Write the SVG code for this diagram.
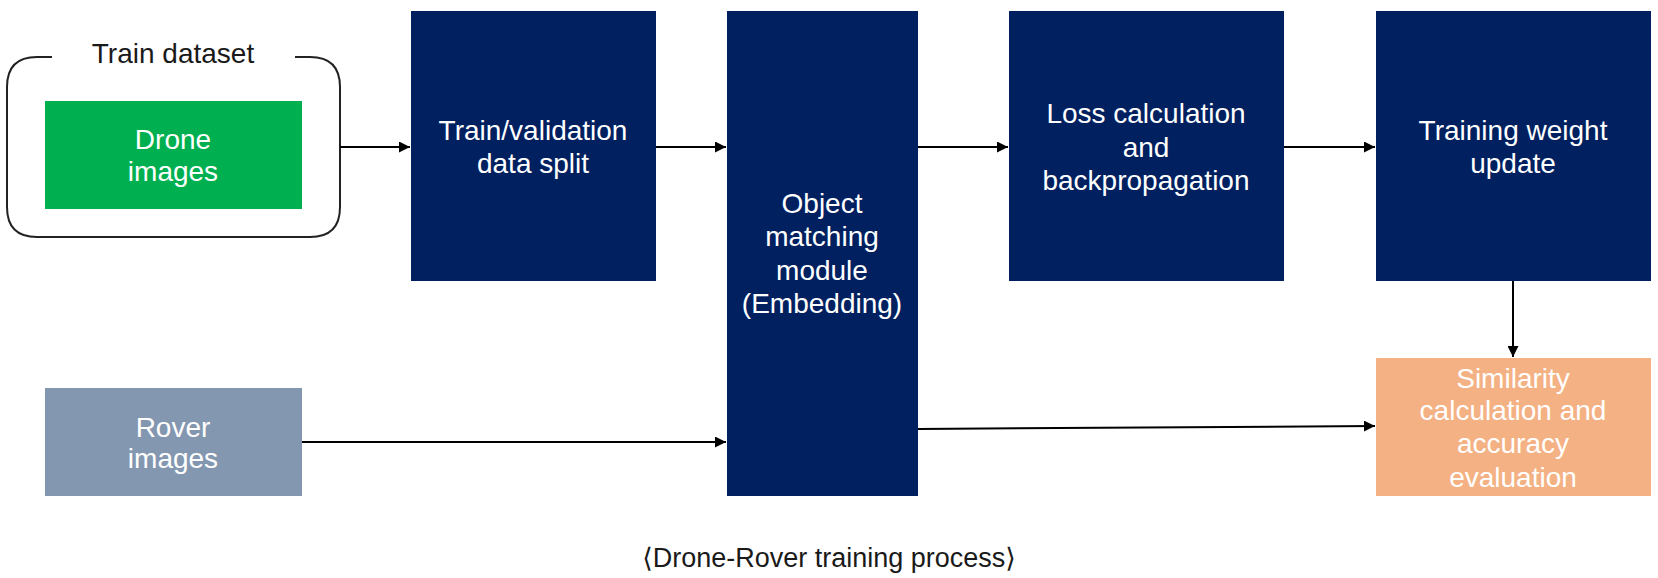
<svg xmlns="http://www.w3.org/2000/svg" width="1658" height="578" viewBox="0 0 1658 578">
<style>
text{font-family:"Liberation Sans","DejaVu Sans",sans-serif;font-size:28px;text-anchor:middle}
.w{fill:#ffffff}
.d{fill:#1a1a1a}
.navy{fill:#002060}
.conn{stroke:#000;stroke-width:2;fill:none;marker-end:url(#ah)}
</style>
<defs>
<marker id="ah" viewBox="0 0 10 10" refX="10" refY="5" markerWidth="11" markerHeight="11" markerUnits="userSpaceOnUse" orient="auto">
<path d="M0,0 L10,5 L0,10 z" fill="#000"/>
</marker>
</defs>
<rect width="1658" height="578" fill="#fff"/>

<g id="train-dataset">
<path d="M52,57 L37,57 Q7,57 7,87 L7,207 Q7,237 37,237 L310,237 Q340,237 340,207 L340,87 Q340,57 310,57 L295,57" fill="none" stroke="#222" stroke-width="2"/>
<text class="d" x="173" y="63">Train dataset</text>
</g>

<g id="drone-images">
<rect x="45" y="101" width="257" height="108" fill="#00b050"/>
<text class="w" x="173" y="149">Drone</text>
<text class="w" x="173" y="181">images</text>
</g>

<g id="split">
<rect class="navy" x="411" y="11" width="245" height="270"/>
<text class="w" x="533" y="140">Train/validation</text>
<text class="w" x="533" y="173">data split</text>
</g>

<g id="object-matching">
<rect class="navy" x="727" y="11" width="191" height="485"/>
<text class="w" x="822" y="213">Object</text>
<text class="w" x="822" y="246">matching</text>
<text class="w" x="822" y="280">module</text>
<text class="w" x="822" y="313">(Embedding)</text>
</g>

<g id="loss">
<rect class="navy" x="1009" y="11" width="275" height="270"/>
<text class="w" x="1146" y="123">Loss calculation</text>
<text class="w" x="1146" y="157">and</text>
<text class="w" x="1146" y="190">backpropagation</text>
</g>

<g id="weight-update">
<rect class="navy" x="1376" y="11" width="275" height="270"/>
<text class="w" x="1513" y="140">Training weight</text>
<text class="w" x="1513" y="173">update</text>
</g>

<g id="rover-images">
<rect x="45" y="388" width="257" height="108" fill="#8497b0"/>
<text class="w" x="173" y="437">Rover</text>
<text class="w" x="173" y="468">images</text>
</g>

<g id="similarity">
<rect x="1376" y="358" width="275" height="138" fill="#f4b183"/>
<text class="w" x="1513" y="388">Similarity</text>
<text class="w" x="1513" y="420">calculation and</text>
<text class="w" x="1513" y="453">accuracy</text>
<text class="w" x="1513" y="487">evaluation</text>
</g>

<g id="connectors">
<line class="conn" x1="340" y1="147" x2="410" y2="147"/>
<line class="conn" x1="656" y1="147" x2="726" y2="147"/>
<line class="conn" x1="918" y1="147" x2="1008" y2="147"/>
<line class="conn" x1="1284" y1="147" x2="1375" y2="147"/>
<line class="conn" x1="1513" y1="281" x2="1513" y2="357"/>
<line class="conn" x1="302" y1="442" x2="726" y2="442"/>
<line class="conn" x1="918" y1="429" x2="1375" y2="426"/>
</g>

<text class="d" x="829" y="567" style="font-size:27px">⟨Drone-Rover training process⟩</text>
</svg>
